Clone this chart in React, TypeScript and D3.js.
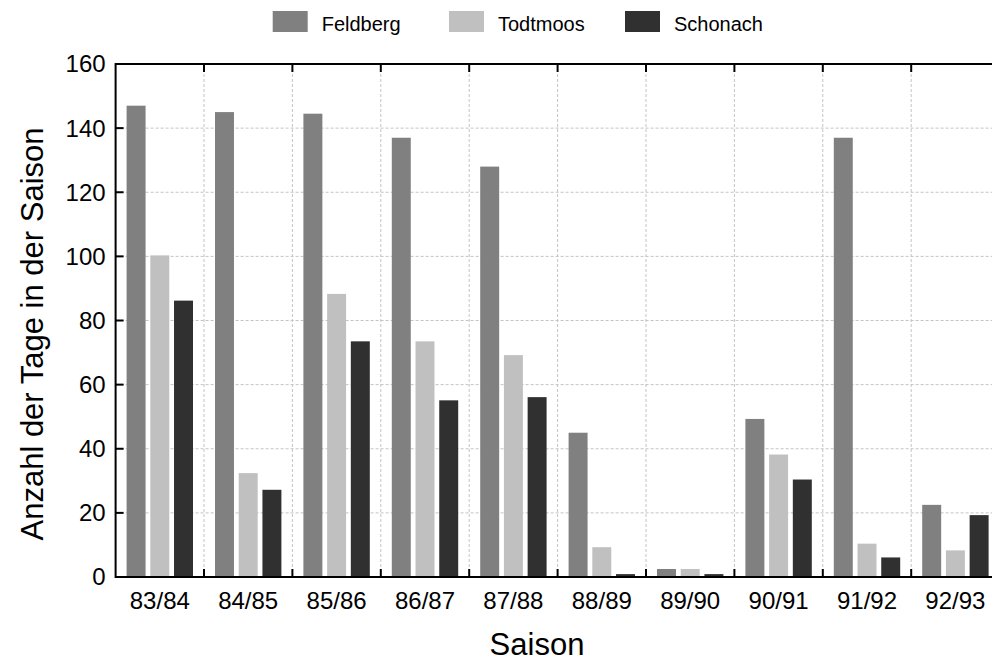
import React, { useEffect, useRef } from "react";
import * as d3 from "d3";

const categories = ["83/84", "84/85", "85/86", "86/87", "87/88", "88/89", "89/90", "90/91", "91/92", "92/93"];
const seriesNames = ["Feldberg", "Todtmoos", "Schonach"];
const feldberg = [147, 145, 144.5, 137, 128, 45, 2.5, 49.3, 137, 22.5];
const todtmoos = [100.3, 32.4, 88.3, 73.5, 69.2, 9.3, 2.5, 38.2, 10.4, 8.3];
const schonach = [86.2, 27.2, 73.5, 55.1, 56.1, 0.9, 0.9, 30.4, 6.1, 19.3];
const yTicks = [0, 20, 40, 60, 80, 100, 120, 140, 160];
const colors = ["#808080", "#c0c0c0", "#303030"];

const W = 992;
const H = 662;

export default function App() {
  const ref = useRef<SVGSVGElement | null>(null);

  useEffect(() => {
    const svg = d3.select(ref.current);
    svg.selectAll("*").remove();
    const left = 115.6, right = 999.6, top = 64, bottom = 577;
    const font = "Liberation Sans, Arial, Helvetica, sans-serif";

    const x0 = d3.scaleBand<string>().domain(categories).range([left, right]).padding(0);
    const x1 = d3.scaleBand<string>().domain(seriesNames).range([0, 66.4]).paddingInner(0.2).paddingOuter(0);
    const y = d3.scaleLinear().domain([0, 160]).range([bottom, top]);
    const values = [feldberg, todtmoos, schonach];

    const grid = svg.append("g");
    yTicks.slice(1, -1).forEach((t) => {
      grid.append("line").attr("x1", left).attr("x2", right).attr("y1", y(t)).attr("y2", y(t))
        .attr("stroke", "#c4c4c4").attr("stroke-width", 1).attr("stroke-dasharray", "3,2");
    });
    categories.slice(1).forEach((c) => {
      const xv = x0(c)!;
      grid.append("line").attr("x1", xv).attr("x2", xv).attr("y1", top).attr("y2", bottom)
        .attr("stroke", "#c4c4c4").attr("stroke-width", 1).attr("stroke-dasharray", "3,2");
    });

    const off = (x0.bandwidth() - 66.4) / 2;
    const bars = svg.append("g");
    categories.forEach((c, i) => {
      seriesNames.forEach((s, j) => {
        const v = values[j][i];
        bars.append("rect")
          .attr("x", x0(c)! + off + x1(s)!)
          .attr("y", y(v))
          .attr("width", x1.bandwidth())
          .attr("height", y(0) - y(v))
          .attr("fill", colors[j]);
      });
    });

    // axes
    const ax = svg.append("g").attr("stroke", "#000").attr("stroke-width", 2);
    ax.append("line").attr("x1", left).attr("x2", right).attr("y1", bottom).attr("y2", bottom);
    ax.append("line").attr("x1", left).attr("x2", right).attr("y1", top).attr("y2", top);
    ax.append("line").attr("x1", left).attr("x2", left).attr("y1", top - 1).attr("y2", bottom + 1);
    ax.append("line").attr("x1", right).attr("x2", right).attr("y1", top - 1).attr("y2", bottom + 1);
    yTicks.forEach((t) => {
      ax.append("line").attr("x1", left).attr("x2", left + 8).attr("y1", y(t)).attr("y2", y(t));
    });
    categories.slice(1).forEach((c) => {
      const xv = x0(c)!;
      ax.append("line").attr("x1", xv).attr("x2", xv).attr("y1", bottom).attr("y2", bottom - 8);
      ax.append("line").attr("x1", xv).attr("x2", xv).attr("y1", top).attr("y2", top + 8);
    });

    const txt = svg.append("g").attr("font-family", font).attr("fill", "#000");
    yTicks.forEach((t) => {
      txt.append("text").attr("x", left - 10).attr("y", y(t)).attr("dy", "0.35em")
        .attr("text-anchor", "end").attr("font-size", 24).text(String(t));
    });
    categories.forEach((c) => {
      txt.append("text").attr("x", x0(c)! + x0.bandwidth() / 2).attr("y", 609)
        .attr("text-anchor", "middle").attr("font-size", 24).text(c);
    });
    txt.append("text").attr("x", 537).attr("y", 655).attr("text-anchor", "middle")
      .attr("font-size", 31).text("Saison");
    txt.append("text").attr("transform", `translate(43,334) rotate(-90)`).attr("text-anchor", "middle")
      .attr("font-size", 31).text("Anzahl der Tage in der Saison");

    // legend
    const legX = [272.7, 449, 625];
    seriesNames.forEach((s, j) => {
      svg.append("rect").attr("x", legX[j]).attr("y", 11).attr("width", 35).attr("height", 21)
        .attr("fill", colors[j]);
      txt.append("text").attr("x", legX[j] + 49).attr("y", 31).attr("font-size", 20).text(s);
    });
  }, []);

  return (
    <svg ref={ref} width={W} height={H} style={{ position: "absolute", left: 0, top: 0, background: "#fff" }} />
  );
}
